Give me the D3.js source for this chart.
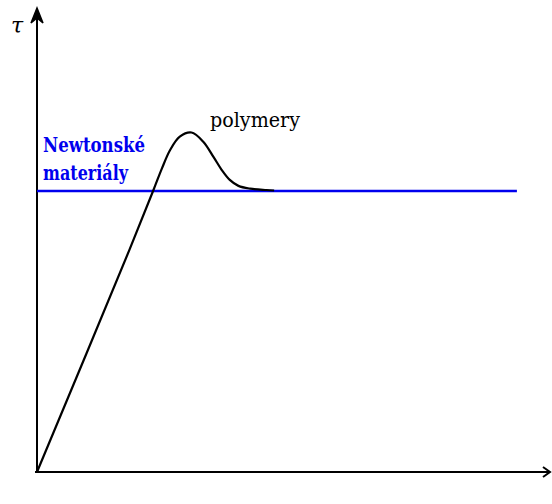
<!DOCTYPE html>
<html><head><meta charset="utf-8">
<script src="https://cdn.jsdelivr.net/npm/d3@7"></script>
<style>html,body{margin:0;padding:0;background:#fff;}svg{display:block;}</style>
</head><body>
<svg id="chart" width="552" height="504"></svg>
<script>
// Data (arbitrary units: shear rate gamma, shear stress tau)
const polymerGamma = [0, 18.2, 22.8, 24.5, 26.1, 28.0, 30.3, 32.6, 34.6, 36.2, 37.8, 39.5, 41.8, 45.0, 46.5];
const polymerTau   = [0, 48.5, 61.2, 66.0, 70.0, 72.9, 73.8, 71.8, 68.5, 65.7, 63.5, 62.2, 61.6, 61.3, 61.2];
const newtonGamma  = [0, 94.1];
const newtonTau    = [61.1, 61.1];
const labels = { polymer: "polymery", newton1: "Newtonské", newton2: "materiály", yAxis: "τ" };

const serif = "'DejaVu Serif', serif";
const svg = d3.select("#chart");
const x = d3.scaleLinear().domain([0, 100]).range([37, 547]);
const y = d3.scaleLinear().domain([0, 100]).range([472, 12]);

// axes
svg.append("line").attr("x1", x(0)).attr("y1", y(0)).attr("x2", x(0)).attr("y2", 10)
  .attr("stroke", "#000").attr("stroke-width", 2);
svg.append("line").attr("x1", x(0) - 2).attr("y1", y(0)).attr("x2", 549).attr("y2", y(0))
  .attr("stroke", "#000").attr("stroke-width", 2);
// y arrowhead
svg.append("path").attr("d", `M${x(0)},8 L${x(0)-6},23 L${x(0)},18 L${x(0)+6},23 Z`)
  .attr("fill", "#000").attr("stroke", "#000").attr("stroke-width", 1.5).attr("stroke-linejoin", "miter");
// x arrowhead (open)
svg.append("path").attr("d", `M543,${y(0)-5} L550,${y(0)} L543,${y(0)+5}`)
  .attr("fill", "none").attr("stroke", "#000").attr("stroke-width", 2);

// Newtonian line
const newtonData = newtonGamma.map((g, i) => [g, newtonTau[i]]);
svg.append("path").datum(newtonData)
  .attr("d", d3.line().x(d => x(d[0])).y(d => y(d[1])))
  .attr("fill", "none").attr("stroke", "#0000ee").attr("stroke-width", 2.5);

// Polymer curve
const polyData = polymerGamma.map((g, i) => [g, polymerTau[i]]);
svg.append("path").datum(polyData)
  .attr("d", d3.line().x(d => x(d[0])).y(d => y(d[1])).curve(d3.curveCatmullRom.alpha(0.5)))
  .attr("fill", "none").attr("stroke", "#000").attr("stroke-width", 2.2);

// labels
svg.append("text").attr("x", 11).attr("y", 33).text(labels.yAxis)
  .style("font-family", serif).attr("font-style", "italic").attr("font-size", 22).attr("fill", "#000");
svg.append("text").attr("x", 210).attr("y", 127).text(labels.polymer)
  .style("font-family", serif).attr("font-size", 21).attr("fill", "#000")
  .attr("textLength", 90).attr("lengthAdjust", "spacingAndGlyphs");
svg.append("text").attr("x", 43).attr("y", 152).text(labels.newton1)
  .style("font-family", serif).attr("font-weight", "bold").attr("font-size", 20).attr("fill", "#0000ee")
  .attr("textLength", 102).attr("lengthAdjust", "spacingAndGlyphs");
svg.append("text").attr("x", 43).attr("y", 180).text(labels.newton2)
  .style("font-family", serif).attr("font-weight", "bold").attr("font-size", 20).attr("fill", "#0000ee")
  .attr("textLength", 85).attr("lengthAdjust", "spacingAndGlyphs");
</script>
</body></html>
